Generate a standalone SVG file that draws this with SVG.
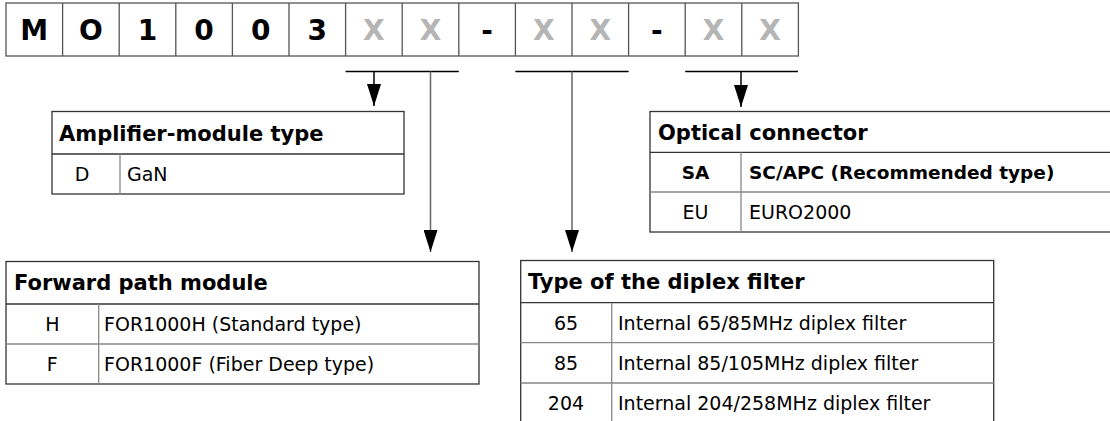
<svg xmlns="http://www.w3.org/2000/svg" width="1110" height="421" viewBox="0 0 1110 421">
<defs>
<style>
.cell{fill:#fff;stroke:#555;stroke-width:1.3}
.ch{font-family:"DejaVu Sans",sans-serif;font-weight:bold;font-size:28px;text-anchor:middle;fill:#000}
.cx{fill:#b5b5b5}
.tb{fill:#fff;stroke:#333;stroke-width:1.3}
.in{stroke:#888;stroke-width:1.3;fill:none}
.hs{stroke:#333;stroke-width:1.3;fill:none}
.hd{font-family:"DejaVu Sans",sans-serif;font-weight:bold;font-size:21px;fill:#000}
.bd{font-family:"DejaVu Sans",sans-serif;font-size:19px;fill:#000}
.bb{font-weight:bold;font-size:18.5px}
.c{text-anchor:middle}
.br{stroke:#000;stroke-width:1.5;fill:none}
.vl{stroke:#666;stroke-width:1.5;fill:none}
</style>
<marker id="ah" viewBox="0 0 22 14" refX="22" refY="7" markerWidth="22" markerHeight="14" markerUnits="userSpaceOnUse" orient="auto">
<path d="M0,0 L22,7 L0,14 Z" fill="#000"/>
</marker>
</defs>

<g id="code">
<rect class="cell" x="6" y="3" width="792.4" height="53"/>
<path class="cell" d="M62.6,3V56M119.2,3V56M175.8,3V56M232.4,3V56M289,3V56M345.6,3V56M402.2,3V56M458.8,3V56M515.4,3V56M572,3V56M628.6,3V56M685.2,3V56M741.8,3V56"/>
<text class="ch" x="34.3" y="40">M</text>
<text class="ch" x="90.9" y="40">O</text>
<text class="ch" x="147.5" y="40">1</text>
<text class="ch" x="204.1" y="40">0</text>
<text class="ch" x="260.7" y="40">0</text>
<text class="ch" x="317.3" y="40">3</text>
<text class="ch cx" x="373.9" y="40">X</text>
<text class="ch cx" x="430.5" y="40">X</text>
<text class="ch" x="487.1" y="40">-</text>
<text class="ch cx" x="543.7" y="40">X</text>
<text class="ch cx" x="600.3" y="40">X</text>
<text class="ch" x="656.9" y="40">-</text>
<text class="ch cx" x="713.5" y="40">X</text>
<text class="ch cx" x="770.1" y="40">X</text>
</g>

<g id="connectors">
<path class="br" d="M345.6,71.5H458.8M515.4,71.5H628.6M685.2,71.5H798"/>
<path class="br" d="M374,71.5V106" marker-end="url(#ah)"/>
<path class="vl" d="M430.5,71.5V252" marker-end="url(#ah)"/>
<path class="vl" d="M572,71.5V252" marker-end="url(#ah)"/>
<path class="br" d="M741,71.5V107" marker-end="url(#ah)"/>
</g>

<g id="amplifier-table">
<rect class="tb" x="52" y="111.5" width="352" height="82.5"/>
<path class="hs" d="M52,154H404"/>
<path class="in" d="M120,154V194"/>
<text class="hd" x="59" y="140.5">Amplifier-module type</text>
<text class="bd c" x="82" y="181">D</text>
<text class="bd" x="127" y="181">GaN</text>
</g>

<g id="optical-table">
<rect class="tb" x="650" y="111.5" width="473" height="120.5"/>
<path class="hs" d="M650,152.3H1123"/>
<path class="in" d="M650,192H1123M741,152.3V232"/>
<text class="hd" x="658" y="140">Optical connector</text>
<text class="bd bb c" x="695.5" y="179">SA</text>
<text class="bd bb" x="749" y="179">SC/APC (Recommended type)</text>
<text class="bd c" x="695.5" y="219">EU</text>
<text class="bd" x="749" y="219">EURO2000</text>
</g>

<g id="forward-table">
<rect class="tb" x="6" y="261.5" width="473" height="122.5"/>
<path class="hs" d="M6,304H479"/>
<path class="in" d="M6,344H479M98.7,304V384"/>
<text class="hd" x="14" y="290">Forward path module</text>
<text class="bd c" x="52.3" y="331">H</text>
<text class="bd" x="104" y="331">FOR1000H (Standard type)</text>
<text class="bd c" x="52.3" y="371">F</text>
<text class="bd" x="104" y="371">FOR1000F (Fiber Deep type)</text>
</g>

<g id="diplex-table">
<rect class="tb" x="520.7" y="260.5" width="473" height="170"/>
<path class="hs" d="M520.7,302.7H993.7"/>
<path class="in" d="M520.7,342.7H993.7M520.7,383H993.7M611.7,302.7V421"/>
<text class="hd" x="528" y="289">Type of the diplex filter</text>
<text class="bd c" x="566" y="329.5">65</text>
<text class="bd" x="618" y="329.5">Internal 65/85MHz diplex filter</text>
<text class="bd c" x="566" y="369.5">85</text>
<text class="bd" x="618" y="369.5">Internal 85/105MHz diplex filter</text>
<text class="bd c" x="566" y="409.5">204</text>
<text class="bd" x="618" y="409.5">Internal 204/258MHz diplex filter</text>
</g>
</svg>
